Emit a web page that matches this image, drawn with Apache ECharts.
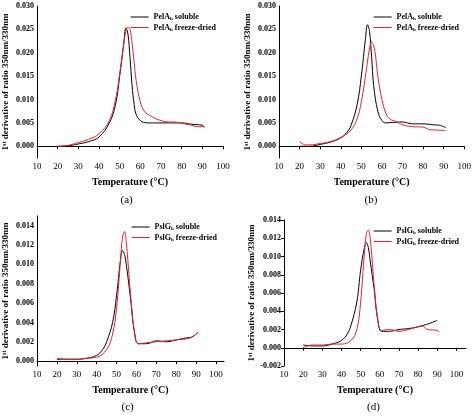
<!DOCTYPE html>
<html><head><meta charset="utf-8">
<script src="https://cdn.jsdelivr.net/npm/echarts@6/dist/echarts.min.js"></script>
<style>html,body{margin:0;background:#fff}#c{width:474px;height:417px}</style>
</head><body><div id="c"></div>
<script>
// Panel (a): PelAh
const aSolT = [20,25,30,35,40,45,48,50,52,53,54,55,56,57,58,60,62,65,70,75,80,85,90,91];
const aSolV = [0,0.0001,0.0005,0.001,0.002,0.005,0.009,0.015,0.022,0.0253,0.024,0.019,0.013,0.009,0.0068,0.0055,0.0051,0.005,0.005,0.005,0.005,0.0047,0.0045,0.0041];
const aFdT = [20,25,30,35,40,45,48,50,52,53,54,55,56,57,58,60,62,65,70,75,77,80,85,87,90,91];
const aFdV = [0,0.0002,0.0008,0.0015,0.0027,0.0055,0.01,0.0155,0.022,0.0245,0.0255,0.025,0.022,0.018,0.014,0.0095,0.0075,0.0065,0.0055,0.0052,0.0052,0.0049,0.0045,0.0042,0.0042,0.0041];
// Panel (b): PelAh
const bSolT = [20,25,30,35,40,43,45,48,50,52,53,54,55,56,58,60,62,65,70,75,80,85,88,91];
const bSolV = [0,0,0.0004,0.0009,0.0018,0.003,0.0045,0.009,0.015,0.023,0.026,0.0245,0.019,0.013,0.0075,0.0055,0.005,0.0051,0.0052,0.0048,0.0048,0.0046,0.0045,0.004];
const bFdT = [20,23,25,30,35,40,45,48,50,52,54,55,56,57,58,60,62,64,67,70,75,80,83,90,91];
const bFdV = [0.001,0.0003,0.0003,0.0006,0.001,0.0019,0.0035,0.006,0.0095,0.015,0.021,0.0223,0.0215,0.019,0.015,0.01,0.007,0.0058,0.0053,0.0046,0.0042,0.0041,0.0036,0.0034,0.0033];
// Panel (c): PslGh
const cSolT = [20,25,30,35,40,43,45,48,50,52,53,54,55,57,59,61,65,70,75,80,85,88,91];
const cSolV = [0.0002,0.0002,0.0002,0.0003,0.0006,0.0012,0.002,0.004,0.0068,0.0105,0.0114,0.011,0.0098,0.0065,0.003,0.0018,0.0018,0.0021,0.002,0.0022,0.0024,0.0025,0.003];
const cFdT = [20,25,30,35,40,45,48,50,52,53,54,55,57,59,61,65,70,75,80,85,88,91];
const cFdV = [0.0003,0.0002,0.0002,0.0003,0.0004,0.0012,0.0028,0.0055,0.0105,0.0128,0.0134,0.012,0.007,0.003,0.0018,0.0019,0.002,0.0021,0.0022,0.0023,0.0025,0.003];
// Panel (d): PslGh
const dSolT = [20,25,30,35,40,43,45,48,50,52,53,54,55,57,59,61,65,70,75,80,85,90];
const dSolV = [0.0003,0.0002,0.0002,0.0004,0.0008,0.0015,0.0025,0.005,0.0085,0.011,0.0115,0.011,0.0095,0.0065,0.003,0.0018,0.0018,0.002,0.0021,0.0023,0.0026,0.003];
const dFdT = [20,25,30,35,40,45,48,50,52,53,54,55,57,59,61,65,70,75,80,82,85,90,91];
const dFdV = [0,0.0003,0.0003,0.0004,0.0004,0.0008,0.002,0.005,0.0105,0.0125,0.0129,0.012,0.007,0.003,0.0019,0.002,0.0018,0.002,0.0023,0.0024,0.002,0.0019,0.0017];

const panelLabels = ['(a)', '(b)', '(c)', '(d)'];
const proteins = ['PelA', 'PelA', 'PslG', 'PslG'];

const FONT = 'Liberation Serif';
const panels = [
  { grid: { left: 34, top: 6, width: 189, height: 152 }, xMax: 100, yMin: -0.0025, yMax: 0.030, step: 0.0025, major: 0.005, data: [[aSolT, aSolV], [aFdT, aFdV]] },
  { grid: { left: 279, top: 6, width: 187, height: 152 }, xMax: 100, yMin: -0.0025, yMax: 0.030, step: 0.0025, major: 0.005, data: [[bSolT, bSolV], [bFdT, bFdV]] },
  { grid: { left: 35, top: 216, width: 189, height: 150 }, xMax: 104, yMin: -0.0005, yMax: 0.015, step: 0.0005, major: 0.002, data: [[cSolT, cSolV], [cFdT, cFdV]] },
  { grid: { left: 284, top: 220, width: 182, height: 146 }, xMax: 105, yMin: -0.002, yMax: 0.014, step: 0.002, major: 0.002, data: [[dSolT, dSolV], [dFdT, dFdV]] },
];

const zip = (t, v) => t.map((x, i) => [x, v[i]]);
const isMajor = (v, m) => Math.abs(v / m - Math.round(v / m)) < 1e-6;

const option = { animation: false, grid: [], xAxis: [], yAxis: [], series: [], legend: [], graphic: [] };
panels.forEach((p, i) => {
  option.grid.push(Object.assign({}, p.grid));
  option.xAxis.push({
    gridIndex: i, type: 'value', min: 10, max: p.xMax, interval: 10,
    name: 'Temperature (°C)', nameLocation: 'middle', nameGap: 19,
    nameTextStyle: { fontFamily: FONT, fontWeight: 'bold', fontSize: 10, color: '#000' },
    axisLine: { lineStyle: { color: '#000' } }, splitLine: { show: false },
    axisTick: { length: 3, lineStyle: { color: '#000' } },
    axisLabel: { fontFamily: FONT, fontSize: 9, color: '#000', margin: 4, showMaxLabel: p.xMax === 100 },
  });
  option.yAxis.push({
    gridIndex: i, type: 'value', min: p.yMin, max: p.yMax, interval: p.step,
    name: '{n|1}{s|st}{n| derivative of ratio 350nm/330nm}', nameLocation: 'middle', nameGap: 27,
    nameTextStyle: { rich: {
      n: { fontFamily: FONT, fontWeight: 'bold', fontSize: 9, color: '#000' },
      s: { fontFamily: FONT, fontWeight: 'bold', fontSize: 6, color: '#000', verticalAlign: 'top' } } },
    axisLine: { show: true, lineStyle: { color: '#000' } }, splitLine: { show: false },
    axisTick: { show: p.step === p.major, length: 3, lineStyle: { color: '#000' } },
    axisLabel: { fontFamily: FONT, fontSize: 8, fontWeight: 'bold', color: '#000', margin: 3,
      showMaxLabel: isMajor(p.yMax, p.major),
      formatter: v => (isMajor(v, p.major) && v <= p.yMax ? v.toFixed(3) : '') },
  });
  const names = [proteins[i] + '|soluble|' + i, proteins[i] + '|freeze-dried|' + i];
  ['#000', '#e8202a'].forEach((col, k) => {
    option.series.push({
      name: names[k], type: 'line', xAxisIndex: i, yAxisIndex: i, smooth: 0.4, symbol: 'none',
      data: zip(p.data[k][0], p.data[k][1]), lineStyle: { color: col, width: 1 }, itemStyle: { color: col },
    });
  });
  option.legend.push({
    data: names, orient: 'vertical', right: 474 - p.grid.left - p.grid.width + 2, top: p.grid.top + 2,
    itemWidth: 18, itemHeight: 8, itemGap: 2, icon: 'path://M0,4 L18,4 L18,5 L0,5 Z',
    formatter: n => { const s = n.split('|'); return '{b|' + s[0] + '}{h|h}{b| ' + s[1] + '}'; },
    textStyle: { rich: {
      b: { fontFamily: FONT, fontWeight: 'bold', fontSize: 8, color: '#000' },
      h: { fontFamily: FONT, fontWeight: 'bold', fontSize: 5, color: '#000', verticalAlign: 'bottom', padding: [4, 0, 0, 0] } } },
  });
  option.graphic.push({
    type: 'text', left: p.grid.left + p.grid.width / 2 - 8, top: i < 2 ? 195 : 402,
    style: { text: panelLabels[i], fontFamily: FONT, fontSize: 11, fill: '#000' },
  });
});

echarts.init(document.getElementById('c')).setOption(option);
</script>
</body></html>
